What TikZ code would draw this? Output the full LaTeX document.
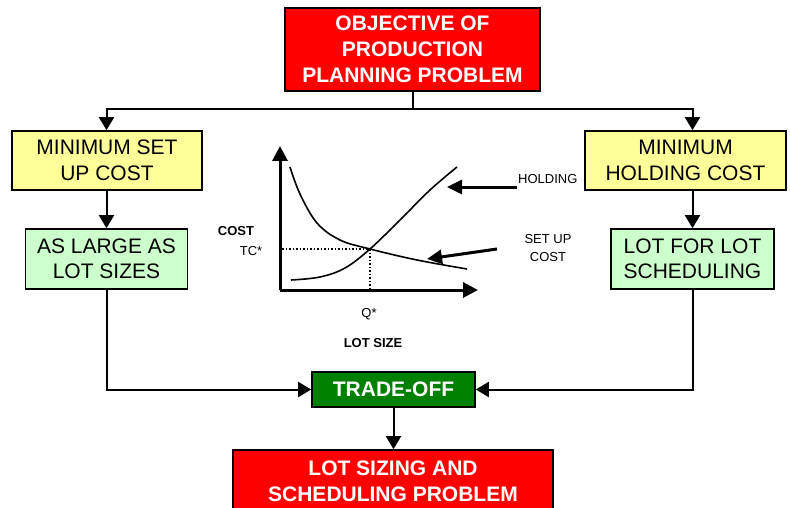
\documentclass[tikz,border=0pt]{standalone}
\usepackage{fontspec}
\setmainfont{Liberation Sans}
\usetikzlibrary{arrows.meta}
\definecolor{boxred}{HTML}{FF0000}
\definecolor{boxyellow}{HTML}{FFFF99}
\definecolor{boxgreen}{HTML}{CCFFCC}
\definecolor{darkgreen}{HTML}{008000}
\begin{document}
\begin{tikzpicture}[x=1pt,y=-1pt,
  box/.style={draw=black,line width=1.6pt,align=center,inner sep=0pt,font=\fontsize{21}{25.5}\selectfont},
  redbox/.style={box,fill=boxred,text=white,font=\bfseries\fontsize{21}{26}\selectfont},
  yelbox/.style={box,fill=boxyellow},
  grnbox/.style={box,fill=boxgreen},
  tradebox/.style={box,fill=darkgreen,text=white,font=\bfseries\fontsize{21}{25}\selectfont},
  conn/.style={line width=2pt,-{Triangle[length=13pt,width=15pt]}},
  axis/.style={line width=3pt,-{Triangle[length=15pt,width=15pt]}},
  curve/.style={line width=1.6pt},
  guide/.style={line width=1.5pt,dotted},
  lbl/.style={font=\fontsize{13}{16}\selectfont,inner sep=0pt,align=center},
  blbl/.style={font=\bfseries\fontsize{13}{16}\selectfont,inner sep=0pt},
]
\useasboundingbox (0,0) rectangle (790,508);
\clip (0,0) rectangle (790,508);

% boxes
\node[redbox,minimum width=255pt,minimum height=83pt] (top) at (412.5,49.5)
  {OBJECTIVE OF\\PRODUCTION\\PLANNING PROBLEM};
\node[yelbox,minimum width=190pt,minimum height=59pt] (ly) at (107,160.5)
  {MINIMUM SET\\UP COST};
\node[yelbox,minimum width=201pt,minimum height=59pt] (ry) at (685.5,160.5)
  {MINIMUM\\HOLDING COST};
\node[grnbox,minimum width=162pt,minimum height=60pt] (lg) at (106.5,259)
  {AS LARGE AS\\LOT SIZES};
\node[grnbox,minimum width=163pt,minimum height=60pt] (rg) at (692.5,259)
  {LOT FOR LOT\\SCHEDULING};
\node[tradebox,minimum width=163pt,minimum height=35pt] (trade) at (393.5,389.5)
  {TRADE-OFF};
\node[redbox,minimum width=320pt,minimum height=62pt] (bot) at (393,481)
  {LOT SIZING AND\\SCHEDULING PROBLEM};

% connectors
\coordinate (split) at (412.5,109);
\draw[line width=2pt] (top.south) -- (split);
\draw[conn] (split) -| (ly.north -| lg.north);
\draw[conn] (split) -| (ry.north -| rg.north);
\draw[conn] (ly.south -| lg.north) -- (lg.north);
\draw[conn] (ry.south -| rg.north) -- (rg.north);
\draw[conn] (lg.south) |- (trade.west);
\draw[conn] (rg.south) |- (trade.east);
\draw[conn] (trade.south) -- (trade.south |- bot.north);

% graph
\coordinate (o) at (280,290);
\coordinate (ytip) at (280,146);
\coordinate (xtip) at (478,290);
\draw[axis] (o) -- (ytip);
\draw[axis] (o) -- (xtip);
\draw[curve] plot[smooth,tension=0.6] coordinates {(290,167) (300,194) (317,223) (340,240) (370,249) (417,260) (467,269)};
\draw[curve] plot[smooth,tension=0.6] coordinates {(291,280) (320,277) (345,268) (370,249) (400,220) (430,190) (457,167)};
\coordinate (q) at (370,249);
\draw[guide] (282,249) -- (q);
\draw[guide] (q) -- (q |- o);

\node[blbl,anchor=base] (cost) at (236,235) {COST};
\node[lbl,anchor=base] (tc) at (251,255) {TC*};
\node[lbl,anchor=base] (qs) at (369,317) {Q*};
\node[blbl,anchor=base] (lotsize) at (373,347) {LOT SIZE};
\node[lbl,anchor=base west] (hold) at (518,183) {HOLDING};
\node[lbl,anchor=center,font=\fontsize{13}{18}\selectfont] (setup) at (548,248) {SET UP\\COST};

\coordinate (hfrom) at (517,187);
\coordinate (hto) at (447,187);
\coordinate (sfrom) at (497,249);
\coordinate (sto) at (427,259);
\draw[line width=3pt,-{Triangle[length=15pt,width=14pt]}] (hfrom) -- (hto);
\draw[line width=3pt,-{Triangle[length=15pt,width=14pt]}] (sfrom) -- (sto);
\end{tikzpicture}
\end{document}
